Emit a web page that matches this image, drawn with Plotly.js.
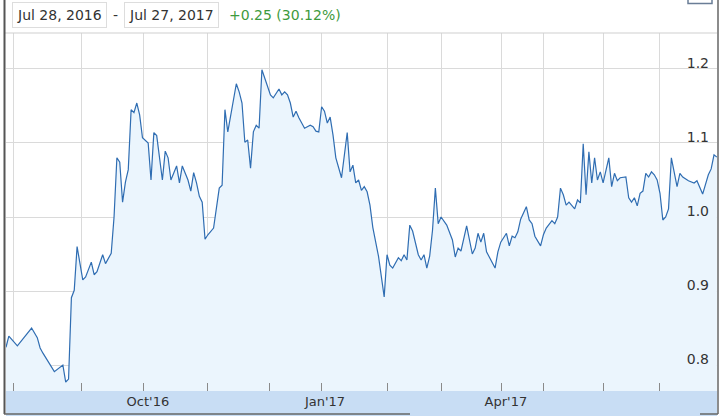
<!DOCTYPE html>
<html>
<head>
<meta charset="utf-8">
<script src="https://cdn.plot.ly/plotly-3.0.1.min.js"></script>
<style>
  html, body { margin: 0; padding: 0; background: #fff; }
  #chart { width: 724px; height: 417px; }
</style>
</head>
<body>
<div id="chart"></div>
<script>
// trading session number (0 = Jul 28, 2016) and closing price
const sessions = [
  0, 1, 4, 9, 11, 12, 13, 15, 17, 20, 21, 22, 23, 24, 25, 27, 28, 30, 31, 32,
  34, 35, 37, 38, 39, 40, 41, 42, 43, 44, 45, 46, 47, 48, 50, 51, 52, 53, 55, 56,
  57, 58, 60, 61, 62, 64, 65, 66, 67, 68, 69, 70, 71, 73, 74, 75, 76, 77, 78, 80,
  81, 82, 83, 84, 85, 86, 87, 88, 89, 90, 92, 93, 94, 95, 96, 97, 98, 99, 100, 101,
  102, 103, 104, 105, 107, 108, 109, 110, 111, 112, 113, 114, 115, 116, 118, 119, 120, 121, 122, 123,
  124, 125, 126, 127, 128, 129, 131, 133, 134, 135, 136, 138, 139, 140, 141, 142, 143, 145, 146, 147,
  148, 149, 150, 151, 152, 153, 155, 157, 158, 159, 160, 162, 164, 165, 166, 167, 168, 169, 172, 173,
  174, 175, 176, 177, 178, 179, 180, 181, 183, 184, 185, 186, 187, 188, 189, 190, 192, 193, 194, 195,
  196, 197, 198, 200, 201, 202, 203, 204, 205, 206, 207, 208, 209, 210, 212, 213, 214, 215, 216, 217,
  218, 219, 220, 221, 222, 223, 224, 225, 226, 227, 228, 229, 230, 231, 232, 233, 234, 236, 237, 238,
  239, 240, 242, 243, 245, 246, 247, 248, 249, 250
];
const prices = [
  0.824, 0.839, 0.826, 0.850, 0.837, 0.823, 0.816, 0.804, 0.791, 0.800, 0.777, 0.781, 0.891, 0.901, 0.960, 0.915, 0.919, 0.939, 0.922, 0.926,
  0.949, 0.937, 0.951, 1.000, 1.080, 1.074, 1.020, 1.047, 1.064, 1.145, 1.141, 1.154, 1.138, 1.107, 1.100, 1.050, 1.114, 1.110, 1.050, 1.089,
  1.080, 1.050, 1.069, 1.046, 1.069, 1.050, 1.035, 1.060, 1.046, 1.028, 1.020, 0.970, 0.976, 0.985, 1.010, 1.039, 1.043, 1.145, 1.115, 1.162,
  1.180, 1.169, 1.154, 1.101, 1.104, 1.066, 1.115, 1.124, 1.120, 1.199, 1.176, 1.165, 1.161, 1.168, 1.173, 1.165, 1.169, 1.165, 1.154, 1.135,
  1.143, 1.134, 1.127, 1.120, 1.124, 1.122, 1.116, 1.115, 1.149, 1.143, 1.127, 1.135, 1.111, 1.080, 1.053, 1.080, 1.114, 1.061, 1.070, 1.046,
  1.050, 1.036, 1.041, 1.034, 1.016, 0.986, 0.947, 0.892, 0.949, 0.935, 0.931, 0.945, 0.941, 0.949, 0.942, 0.989, 0.981, 0.949, 0.942, 0.949,
  0.931, 0.947, 0.982, 1.039, 0.991, 1.000, 0.989, 0.969, 0.946, 0.958, 0.954, 0.988, 0.950, 0.958, 0.978, 0.966, 0.978, 0.953, 0.931, 0.953,
  0.966, 0.972, 0.978, 0.961, 0.974, 0.972, 0.980, 0.997, 1.014, 0.996, 0.991, 0.974, 0.968, 0.961, 0.976, 0.985, 0.995, 0.991, 1.000, 1.039,
  1.030, 1.016, 1.020, 1.011, 1.023, 1.019, 1.099, 1.030, 1.088, 1.046, 1.080, 1.050, 1.061, 1.046, 1.080, 1.041, 1.059, 1.049, 1.053, 1.053,
  1.054, 1.026, 1.020, 1.026, 1.015, 1.032, 1.035, 1.059, 1.054, 1.061, 1.057, 1.050, 1.032, 0.996, 1.000, 1.011, 1.080, 1.041, 1.059, 1.054,
  1.051, 1.049, 1.046, 1.049, 1.031, 1.046, 1.057, 1.065, 1.084, 1.081
];

// month starts (in sessions) and their labels
const monthTicks = [2.5, 26.4, 48.5, 71, 92.8, 110.8, 134.3, 153.3, 174.4, 189.2, 210, 230];
const monthLabels = ['', '', "Oct'16", '', '', "Jan'17", '', '', "Apr'17", '', '', ''];
const priceTicks = [0.8, 0.9, 1.0, 1.1, 1.2];

const rangeStart = 'Jul 28, 2016';
const rangeEnd = 'Jul 27, 2017';
const rangeChange = '+0.25 (30.12%)';

// page pixels -> paper coords (plot spans x 6..717, y 33..391)
const L = 6, R = 717, T = 33, B = 391;
const px = x => (x - L) / (R - L);
const py = y => (B - y) / (B - T);

const font = 'DejaVu Sans, Verdana, sans-serif';

const trace = {
  x: sessions, y: prices,
  type: 'scatter', mode: 'lines',
  line: { color: '#2f6db2', width: 1.2 },
  fill: 'tozeroy', fillcolor: '#ebf5fd',
  hoverinfo: 'skip',
};

const shapes = [
  // date axis band
  { type: 'rect', xref: 'paper', yref: 'paper', x0: px(L), x1: px(R), y0: py(416), y1: py(B),
    fillcolor: '#c8ddf4', line: { width: 0 }, layer: 'below' },
  // top rule of the plot
  { type: 'line', xref: 'paper', yref: 'paper', x0: px(4), x1: px(R), y0: 1, y1: 1,
    line: { color: '#cfcfcf', width: 1 } },
  // outer frame
  { type: 'line', xref: 'paper', yref: 'paper', x0: px(4.5), x1: px(4.5), y0: py(0), y1: py(414),
    line: { color: '#555', width: 2 } },
  { type: 'line', xref: 'paper', yref: 'paper', x0: px(718), x1: px(718), y0: py(0), y1: py(414),
    line: { color: '#666', width: 1.5 } },
  { type: 'line', xref: 'paper', yref: 'paper', x0: px(4), x1: px(410), y0: py(414), y1: py(414),
    line: { color: '#666', width: 1.5 } },
  { type: 'line', xref: 'paper', yref: 'paper', x0: px(700), x1: px(718), y0: py(414), y1: py(414),
    line: { color: '#666', width: 1.5 } },
  // bottom of the button at top right
  { type: 'rect', xref: 'paper', yref: 'paper', x0: px(688), x1: px(712), y0: py(-6), y1: py(3.5),
    line: { color: '#6a7d96', width: 1.5 }, fillcolor: 'rgba(0,0,0,0)' },
];

const boxStyle = { bordercolor: '#dddddd', borderwidth: 1, borderpad: 4, bgcolor: '#ffffff' };
const annotations = [
  Object.assign({ text: rangeStart, x: px(59), y: py(15) }, boxStyle),
  { text: '-', x: px(115), y: py(15) },
  Object.assign({ text: rangeEnd, x: px(171), y: py(15) }, boxStyle),
  { text: rangeChange, x: px(227), y: py(15), xanchor: 'left', font: { color: '#3d9a3d', size: 14, family: font } },
].map(a => Object.assign({
  xref: 'paper', yref: 'paper', showarrow: false,
  xanchor: 'center', yanchor: 'middle',
  font: { color: '#333', size: 14, family: font },
}, a));

const layout = {
  width: 724, height: 417,
  margin: { l: L, r: 724 - R, t: T, b: 417 - B, pad: 0 },
  paper_bgcolor: '#ffffff',
  plot_bgcolor: '#ffffff',
  showlegend: false,
  font: { family: font, color: '#333' },
  xaxis: {
    range: [0, 250.05],
    tickmode: 'array', tickvals: monthTicks, ticktext: monthLabels,
    ticks: 'inside', ticklen: 8, tickcolor: '#8a8a8a', tickwidth: 1,
    ticklabelshift: 4, ticklabelstandoff: 1,
    tickfont: { size: 13, color: '#333', family: font },
    showgrid: true, gridcolor: '#dadada', gridwidth: 1,
    zeroline: false, showline: false, fixedrange: true,
  },
  yaxis: {
    range: [0.7649, 1.2486],
    side: 'right', ticklabelposition: 'inside',
    tickmode: 'array', tickvals: priceTicks, tickformat: '.1f',
    ticklabelshift: -6, ticklabelstandoff: 5,
    tickfont: { size: 14, color: '#333', family: font },
    showgrid: true, gridcolor: '#dadada', gridwidth: 1,
    zeroline: false, showline: false, ticks: '', fixedrange: true,
  },
  shapes,
  annotations,
};

Plotly.newPlot('chart', [trace], layout, { displayModeBar: false, staticPlot: true });
</script>
</body>
</html>
